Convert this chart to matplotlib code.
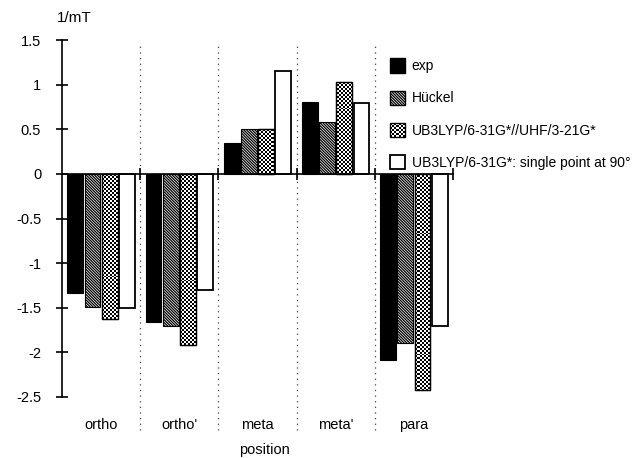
import numpy as np
import matplotlib.pyplot as plt
from matplotlib.patches import Rectangle, Patch
from matplotlib.legend_handler import HandlerBase

plt.rcParams['font.family'] = ['Liberation Sans', 'DejaVu Sans']
plt.rcParams['hatch.linewidth'] = 0.9

# data
positions = ['ortho', "ortho'", 'meta', "meta'", 'para']
exp = [-1.34, -1.66, 0.35, 0.81, -2.09]
huckel = [-1.49, -1.70, 0.50, 0.58, -1.89]
ub3lyp = [-1.63, -1.92, 0.50, 1.03, -2.42]
single90 = [-1.50, -1.30, 1.15, 0.79, -1.71]
labels = ['exp', 'Hückel', 'UB3LYP/6-31G*//UHF/3-21G*',
          'UB3LYP/6-31G*: single point at 90°']

HATCH = '\\' * 12


def checker(ny, nx):
    yy, xx = np.mgrid[0:ny, 0:nx]
    return ((xx + yy) % 2).astype(float)


class CheckerHandler(HandlerBase):
    def create_artists(self, legend, orig_handle, xdescent, ydescent,
                       width, height, fontsize, trans):
        n = 7
        cw, ch = width / n, height / n
        arts = [Rectangle((-xdescent, -ydescent), width, height, fc='white',
                          ec='black', lw=1, transform=trans)]
        for i in range(n):
            for j in range(n):
                if (i + j) % 2 == 0:
                    arts.append(Rectangle((-xdescent + i * cw, -ydescent + j * ch),
                                          cw, ch, fc='black', lw=0, transform=trans))
        return arts


fig = plt.figure(figsize=(6.33, 4.58), dpi=100)
ax = fig.add_axes([62 / 633, 1 - 397 / 458, 391 / 633, 357 / 458])

x = np.arange(len(positions)) + 0.5
w = 0.2
step = 0.22

ax.bar(x - 1.5 * step, exp, w, color='black', edgecolor='black', lw=0.8)
ax.bar(x - 0.5 * step, huckel, w, color='white', edgecolor='black', lw=0.8,
       hatch=HATCH)
cb = ax.bar(x + 0.5 * step, ub3lyp, w, color='white', edgecolor='black', lw=0.8)
ax.bar(x + 1.5 * step, single90, w, color='white', edgecolor='black', lw=1.3)

# checkerboard fill for the UB3LYP bars
img = checker(180, 196)
for b in cb:
    im = ax.imshow(img, cmap='gray', extent=(0, 5, -2.5, 1.5), aspect='auto',
                   interpolation='nearest', zorder=b.get_zorder() + 0.1)
    im.set_clip_path(b)
    ax.add_patch(Rectangle(b.get_xy(), b.get_width(), b.get_height(), fill=False,
                           ec='black', lw=1.0, zorder=b.get_zorder() + 0.2))

ax.set_xlim(0, 5)
ax.set_ylim(-2.5, 1.5)
ax.set_yticks([1.5, 1, 0.5, 0, -0.5, -1, -1.5, -2, -2.5])
ax.set_yticklabels(['1.5', '1', '0.5', '0', '-0.5', '-1', '-1.5', '-2', '-2.5'])
ax.tick_params(axis='y', direction='inout', length=8, width=1.2, labelsize=10.5, pad=11)

for s in ['top', 'right']:
    ax.spines[s].set_visible(False)
ax.spines['left'].set_linewidth(1.2)
ax.spines['bottom'].set_position(('data', 0))
ax.spines['bottom'].set_linewidth(1.2)
ax.set_xticks([1, 2, 3, 4, 5])
ax.set_xticklabels([])
ax.tick_params(axis='x', direction='inout', length=8, width=1.2)

# dotted group separators
ax.vlines([1, 2, 3, 4], -2.87, 1.45, colors='#444444', linestyles=(0, (1, 3.5)),
          lw=0.9, clip_on=False, zorder=0)

for xi, name in zip(x, positions):
    ax.text(xi, -0.078, name, transform=ax.get_xaxis_transform(), ha='center',
            va='center', fontsize=10.5)

fig.text(264 / 633, 1 - 450 / 458, 'position', ha='center', va='center', fontsize=10.5)
fig.text(57 / 633, 1 - 18 / 458, '1/mT', ha='left', va='center', fontsize=11)

handles = [Patch(fc='black', ec='black'),
           Patch(fc='white', ec='black', hatch=HATCH),
           Patch(fc='white', ec='black'),
           Patch(fc='white', ec='black', lw=1.3)]
leg = fig.legend(handles, labels, loc='upper left',
                 bbox_to_anchor=(377 / 633, 1 - 46 / 458), frameon=False,
                 fontsize=10, handlelength=1.15, handleheight=1.2,
                 handletextpad=0.45, labelspacing=1.25,
                 handler_map={handles[2]: CheckerHandler()})

fig.savefig('out.png', dpi=100)
